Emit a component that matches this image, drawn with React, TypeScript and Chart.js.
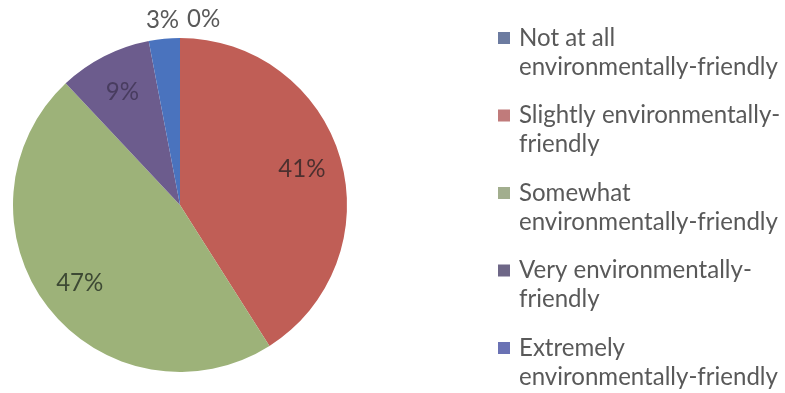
import React, { useEffect, useRef } from "react";
import { Chart, registerables } from "chart.js";

Chart.register(...registerables);

const categories = [
  "Not at all environmentally-friendly",
  "Slightly environmentally-friendly",
  "Somewhat environmentally-friendly",
  "Very environmentally-friendly",
  "Extremely environmentally-friendly",
];
const legendLines = [
  ["Not at all", "environmentally-friendly"],
  ["Slightly environmentally-", "friendly"],
  ["Somewhat", "environmentally-friendly"],
  ["Very environmentally-", "friendly"],
  ["Extremely", "environmentally-friendly"],
];
const values = [0, 41, 47, 9, 3];
const valueLabels = ["0%", "41%", "47%", "9%", "3%"];

const sliceColors = ["#5B74A8", "#C05E56", "#9DB279", "#6C5C8D", "#4A73BE"];
const swatchColors = ["#6C7BA0", "#C07B7B", "#A2AE8E", "#6E6787", "#6A72B4"];
const insideLabelColors = ["#333", "rgba(55,40,40,0.85)", "rgba(45,55,40,0.85)", "rgba(60,50,80,0.75)", "#333"];

const FONT = "Lato, 'Open Sans', sans-serif";

const overlayPlugin = {
  id: "overlay",
  afterDraw(chart: any) {
    const ctx = chart.ctx as CanvasRenderingContext2D;
    ctx.save();
    ctx.font = `100px ${FONT}`;
    const w100 = ctx.measureText("environmentally-friendly").width;
    const fs = (100 * 259) / w100;
    ctx.font = `${fs}px ${FONT}`;

    const meta = chart.getDatasetMeta(0);
    const outside: { text: string; x: number; y: number; w: number }[] = [];
    meta.data.forEach((arc: any, i: number) => {
      const { x, y, startAngle, endAngle, outerRadius } = arc.getProps(
        ["x", "y", "startAngle", "endAngle", "outerRadius"],
        true
      );
      const mid = (startAngle + endAngle) / 2;
      const text = valueLabels[i];
      if (values[i] >= 5) {
        const r = outerRadius * 0.76;
        ctx.fillStyle = insideLabelColors[i];
        ctx.textAlign = "center";
        ctx.textBaseline = "middle";
        ctx.fillText(text, x + r * Math.cos(mid), y + r * Math.sin(mid));
      } else {
        const r = outerRadius + 19;
        outside.push({
          text,
          x: x + r * Math.cos(mid),
          y: y + r * Math.sin(mid),
          w: ctx.measureText(text).width,
        });
      }
    });
    outside.sort((a, b) => a.x - b.x);
    let prevRight = -Infinity;
    outside.forEach((o) => {
      let left = o.x - o.w / 2;
      if (left < prevRight + 8) left = prevRight + 8;
      ctx.fillStyle = "#595959";
      ctx.textAlign = "left";
      ctx.textBaseline = "middle";
      ctx.fillText(o.text, left, o.y);
      prevRight = left + o.w;
    });

    const swX = 498;
    const sw = 12;
    const textX = 519;
    const y0 = 38;
    const itemGap = 77.5;
    const lineGap = 29;
    legendLines.forEach((lines, i) => {
      const yi = y0 + i * itemGap;
      ctx.fillStyle = swatchColors[i];
      ctx.fillRect(swX, yi - sw / 2, sw, sw);
      ctx.fillStyle = "#595959";
      ctx.textAlign = "left";
      ctx.textBaseline = "middle";
      lines.forEach((ln, j) => {
        ctx.fillText(ln, textX, yi + j * lineGap);
      });
    });
    ctx.restore();
  },
};

export default function App() {
  const ref = useRef<HTMLCanvasElement>(null);
  useEffect(() => {
    if (!ref.current) return;
    const chart = new Chart(ref.current, {
      type: "pie",
      data: {
        labels: categories,
        datasets: [
          {
            data: values,
            backgroundColor: sliceColors,
            borderWidth: 0,
            hoverOffset: 0,
          },
        ],
      },
      options: {
        responsive: false,
        animation: false,
        layout: { padding: { left: 13, top: 38, right: 438, bottom: 21 } },
        plugins: {
          legend: { display: false },
          tooltip: { enabled: false },
        },
      },
      plugins: [overlayPlugin],
    });
    return () => chart.destroy();
  }, []);
  return (
    <div style={{ position: "fixed", left: 0, top: 0, width: 785, height: 393, background: "#fff" }}>
      <canvas ref={ref} width={785} height={393} />
    </div>
  );
}
